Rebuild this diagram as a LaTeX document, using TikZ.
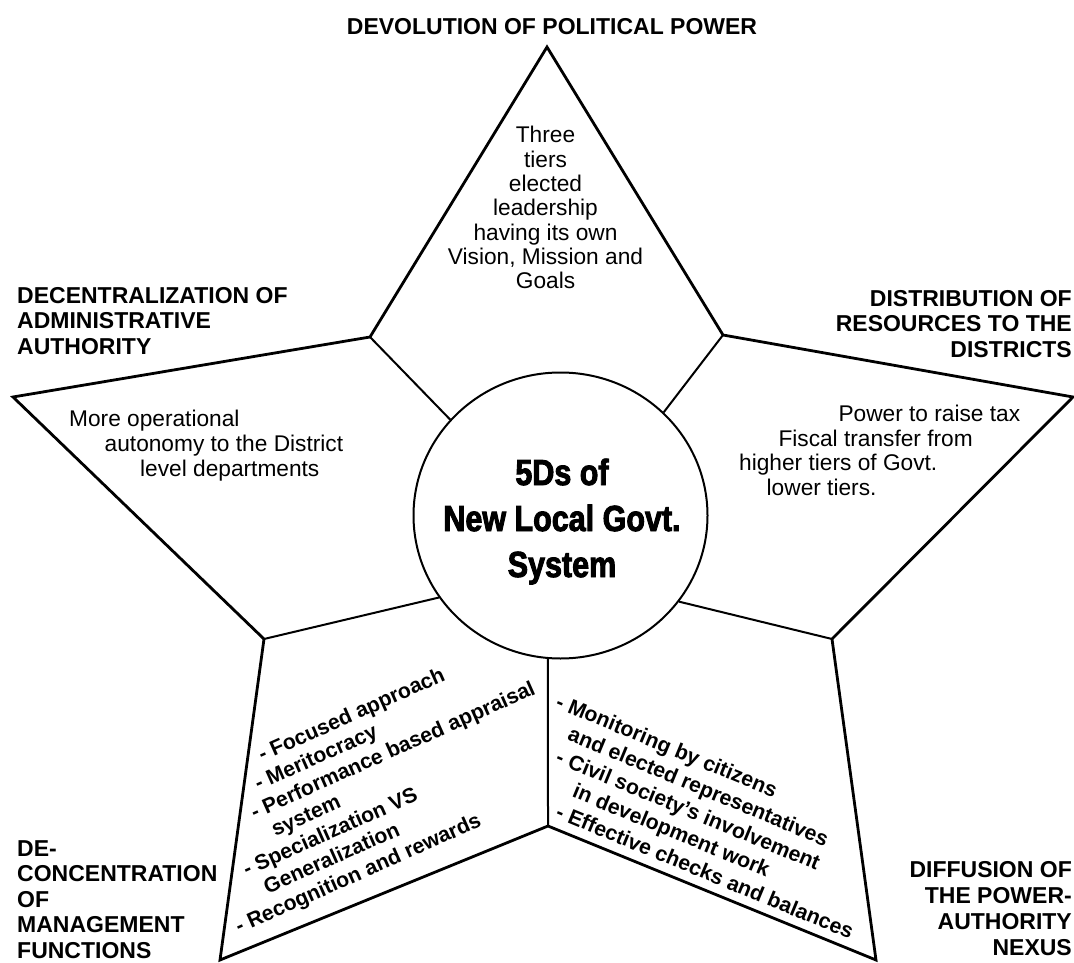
\documentclass[tikz,border=0pt]{standalone}
\usepackage{fontspec}
\setmainfont{Liberation Sans}
\newfontfamily\titlefont[FakeStretch=0.84,FakeBold=2.5]{Liberation Sans}
\usetikzlibrary{shapes.geometric}
\begin{document}
\begin{tikzpicture}[x=1pt,y=-1pt,
  starline/.style={line width=2.8pt, line join=miter},
  spokeline/.style={line width=2pt},
  headtxt/.style={inner sep=0pt, font=\fontsize{23}{25.5}\selectfont\bfseries},
  bodytxt/.style={inner sep=0pt, font=\fontsize{22.7}{24.5}\selectfont},
  itemtxt/.style={inner sep=0pt, anchor=base west, font=\fontsize{21.2}{25}\selectfont\bfseries},
]
\useasboundingbox (0,0) rectangle (1074,963);
\fill[white] (0,0) rectangle (1074,963);

% star vertices
\coordinate (A) at (547,47);
\coordinate (B) at (723,335);
\coordinate (C) at (1073,397);
\coordinate (D) at (832,639);
\coordinate (E) at (876,960);
\coordinate (F) at (548,826);
\coordinate (G) at (220,960);
\coordinate (H) at (264,639);
\coordinate (I) at (13,397);
\coordinate (J) at (370,337);

\draw[starline] (A) -- (B) -- (C) -- (D) -- (E) -- (F) -- (G) -- (H) -- (I) -- (J) -- cycle;

% hub
\node[draw, ellipse, line width=2pt, minimum width=294pt, minimum height=286pt, inner sep=0pt] (hub) at (560.5,515.5) {};
\node[inner sep=0pt, anchor=base, font=\titlefont\fontsize{36.3}{46}\selectfont\bfseries] (title) at (562,485)
  {\begin{tabular}[t]{@{}c@{}}5Ds of\\New Local Govt.\\System\end{tabular}};

% spokes
\draw[spokeline] (J) -- (hub.139);
\draw[spokeline] (B) -- (hub.45);
\draw[spokeline] (H) -- (hub.214);
\draw[spokeline] (D) -- (hub.324);
\draw[spokeline] (F) -- (hub.265);

% outer labels
\node[headtxt, anchor=base] (devol) at (552,35) {DEVOLUTION OF POLITICAL POWER};
\node[headtxt, anchor=base west] (decent) at (17,303)
  {\begin{tabular}[t]{@{}l@{}}DECENTRALIZATION OF\\ADMINISTRATIVE\\AUTHORITY\end{tabular}};
\node[headtxt, anchor=base east] (distrib) at (1072,306)
  {\begin{tabular}[t]{@{}r@{}}DISTRIBUTION OF\\RESOURCES TO THE\\DISTRICTS\end{tabular}};
\node[headtxt, anchor=base west] (deconc) at (17,856)
  {\begin{tabular}[t]{@{}l@{}}DE-\\CONCENTRATION\\OF\\MANAGEMENT\\FUNCTIONS\end{tabular}};
\node[headtxt, anchor=base east, font=\fontsize{23}{26}\selectfont\bfseries] (diffus) at (1072,877)
  {\begin{tabular}[t]{@{}r@{}}DIFFUSION OF\\THE POWER-\\AUTHORITY\\NEXUS\end{tabular}};

% inner texts
\node[bodytxt, anchor=base, font=\fontsize{22.7}{24.33}\selectfont] (devtext) at (545.5,143)
  {\begin{tabular}[t]{@{}c@{}}Three\\tiers\\elected\\leadership\\having its own\\Vision, Mission and\\Goals\end{tabular}};
\node[bodytxt, anchor=base west, font=\fontsize{22.7}{25}\selectfont] (decenttext) at (69,426)
  {\begin{tabular}[t]{@{}l@{}}More operational\\\hspace*{35.5pt}autonomy to the District\\\hspace*{71pt}level departments\end{tabular}};
\node[bodytxt, anchor=base west] (distribtext) at (739,421.7)
  {\begin{tabular}[t]{@{}l@{}}\hspace*{99.3pt}Power to raise tax\\\hspace*{39.3pt}Fiscal transfer from\\higher tiers of Govt.\\\hspace*{27.5pt}lower tiers.\end{tabular}};

% de-concentration items (one tilted block)
\node[itemtxt, rotate=24, font=\fontsize{21.2}{24.63}\selectfont\bfseries] (deconctext) at (178.9,799.0)
  {\begin{tabular}[t]{@{}l@{}}%
   \hspace*{90.96pt}- Focused approach\\
   \hspace*{75.80pt}- Meritocracy\\
   \hspace*{60.64pt}- Performance based appraisal\\
   \hspace*{72.48pt}system\\
   \hspace*{30.32pt}- Specialization VS\\
   \hspace*{42.16pt}Generalization\\
   - Recognition and rewards\end{tabular}};

% diffusion items (one tilted block)
\node[itemtxt, rotate=-22.5, font=\fontsize{21.2}{25.41}\selectfont\bfseries] (diffustext) at (554.5,707.2)
  {\begin{tabular}[t]{@{}l@{}}%
   - Monitoring by citizens\\
   \hspace*{23.52pt}and elected representatives\\
   \hspace*{21.04pt}- Civil society's involvement\\
   \hspace*{49.56pt}in development work\\
   \hspace*{42.08pt}- Effective checks and balances\end{tabular}};
\end{tikzpicture}
\end{document}
